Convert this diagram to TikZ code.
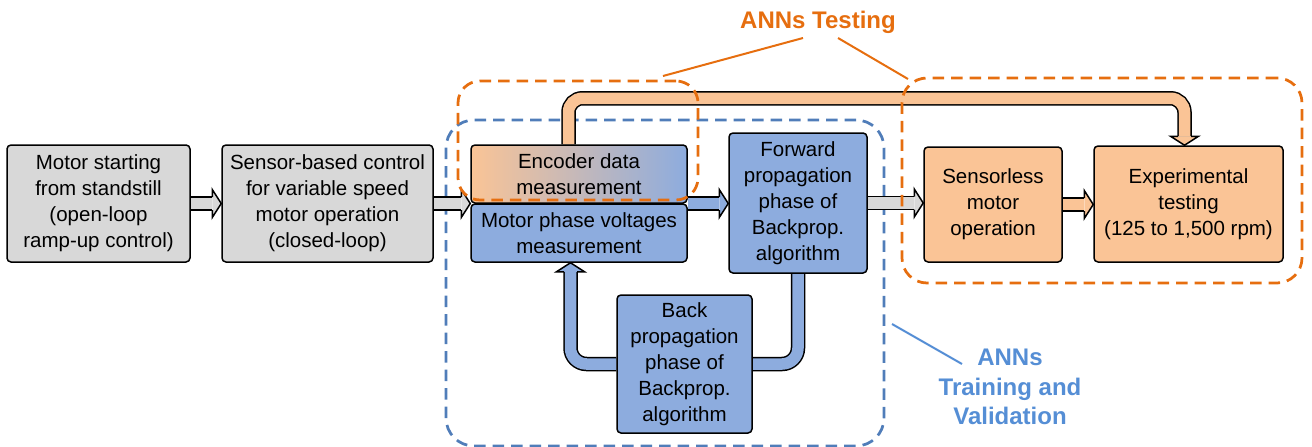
\documentclass[tikz,border=0pt]{standalone}
\usepackage{fontspec}
\setmainfont{Liberation Sans}
\usetikzlibrary{calc}

\definecolor{grfill}{RGB}{216,216,216}
\definecolor{orfill}{RGB}{250,196,150}
\definecolor{blfill}{RGB}{141,172,222}
\definecolor{ordash}{RGB}{230,110,15}
\definecolor{bldash}{RGB}{80,125,185}
\definecolor{bltext}{RGB}{85,142,213}

\pgfdeclarelayer{framelayer}
\pgfdeclarelayer{arrowlayer}
\pgfsetlayers{framelayer,arrowlayer,main}

\tikzset{
  stage/.style={draw=black, line width=1.5pt, rounded corners=4pt, align=center,
    inner sep=0pt, font=\fontsize{20.5}{26}\selectfont},
  blockshaft/.style={line width=1.5pt, double=#1, double distance=11.5pt},
  outl/.style={line width=1.5pt, line join=miter},
  frameor/.style={draw=ordash, line width=2.75pt, dash pattern=on 11.5pt off 7pt, inner sep=0pt},
  framebl/.style={draw=bldash, line width=2.75pt, dash pattern=on 11.5pt off 7pt, inner sep=0pt,
    rounded corners=28pt},
  grouplabel/.style={font=\fontsize{24}{29.5}\selectfont\bfseries, align=center, inner sep=0pt},
}

% arrow head of a block arrow: colour, tip, a point back along the shaft
\newcommand{\blkhead}[3]{%
  \coordinate (hb) at ($(#2)!9pt!(#3)$);
  \fill[#1] ($(hb)!14pt!90:(#2)$) -- (#2) -- ($(hb)!14pt!-90:(#2)$) -- cycle;
  \draw[outl] ($(hb)!6.5pt!90:(#2)$) -- ($(hb)!14pt!90:(#2)$) -- (#2)
    -- ($(hb)!14pt!-90:(#2)$) -- ($(hb)!6.5pt!-90:(#2)$);
}

\begin{document}
\begin{tikzpicture}[x=1pt,y=-1pt]
\useasboundingbox (0,0) rectangle (1312,447);

% stages
\node[stage, fill=grfill, minimum width=183pt, minimum height=117pt] (start) at (98.5,203.5)
  {Motor starting\\from standstill\\(open-loop\\ramp-up control)};
\node[stage, fill=grfill, minimum width=211pt, minimum height=117pt] (sensor) at (327.5,203.5)
  {Sensor-based control\\for variable speed\\motor operation\\(closed-loop)};
\node[stage, fill=blfill, minimum width=216pt, minimum height=58pt] (mpv) at (579,233)
  {Motor phase voltages\\measurement};
\node[stage, left color=orfill, right color=blfill, minimum width=216pt, minimum height=58pt] (enc) at (579,174)
  {Encoder data\\measurement};
\node[stage, fill=blfill, minimum width=138pt, minimum height=140pt] (fwd) at (798,203)
  {Forward\\propagation\\phase of\\Backprop.\\algorithm};
\node[stage, fill=blfill, minimum width=135pt, minimum height=138pt] (back) at (684.5,364)
  {Back\\propagation\\phase of\\Backprop.\\algorithm};
\node[stage, fill=orfill, minimum width=138pt, minimum height=115pt] (sless) at (993,204.5)
  {Sensorless\\motor\\operation};
\node[stage, fill=orfill, minimum width=189pt, minimum height=116pt] (exper) at (1188.5,204)
  {Experimental\\testing\\(125 to 1,500 rpm)};

\coordinate (junc) at ($(enc.south east)!0.5!(mpv.north east)$);

% training / validation group frame, beneath everything
\begin{pgfonlayer}{framelayer}
  \node[framebl, minimum width=438pt, minimum height=326pt] (trainfrm) at (665,283) {};
\end{pgfonlayer}

% block arrows, beneath the stage boxes
\begin{pgfonlayer}{arrowlayer}
  % start -> sensor
  \draw[blockshaft=grfill] (start.east) -- ($(sensor.west)+(-9,0)$);
  \blkhead{grfill}{sensor.west}{start.east}
  % sensor -> measurement boxes
  \coordinate (mIn) at (enc.south west |- sensor.east);
  \draw[blockshaft=grfill] (sensor.east) -- ($(mIn)+(-9,0)$);
  \blkhead{grfill}{mIn}{sensor.east}
  % measurement -> forward propagation
  \coordinate (fIn) at (fwd.west |- junc);
  \draw[blockshaft=blfill] (junc) -- ($(fIn)+(-9,0)$);
  \blkhead{blfill}{fIn}{junc}
  % forward propagation -> sensorless operation
  \coordinate (sIn) at (sless.west |- fwd.east);
  \draw[blockshaft=grfill] (fwd.east) -- ($(sIn)+(-9,0)$);
  \blkhead{grfill}{sIn}{fwd.east}
  % sensorless operation -> experimental testing
  \coordinate (xIn) at (exper.west |- sless.east);
  \draw[blockshaft=orfill] (sless.east) -- ($(xIn)+(-9,0)$);
  \blkhead{orfill}{xIn}{sless.east}
  % forward propagation -> back propagation
  \draw[blockshaft=blfill, rounded corners=16pt] (fwd.south) |- (back.east);
  % back propagation -> motor phase voltages
  \coordinate (vIn) at ($(mpv.south)+(-8.5,0)$);
  \draw[blockshaft=blfill, rounded corners=16pt] (back.west) -| ($(vIn)+(0,9)$);
  \blkhead{blfill}{vIn}{back.west -| vIn}
  % encoder data -> experimental testing
  \coordinate (eOut) at ($(enc.north)+(-10.5,0)$);
  \coordinate (xTop) at ($(exper.north)+(-4,0)$);
  \draw[blockshaft=orfill, rounded corners=14pt] (eOut) -- ++(0,-46) -| ($(xTop)+(0,-9)$);
  \blkhead{orfill}{xTop}{$(xTop)+(0,-30)$}
\end{pgfonlayer}

% testing group frames
\node[frameor, rounded corners=22pt, minimum width=240pt, minimum height=119pt] (tstfrmA) at (578,140.5) {};
\node[frameor, rounded corners=25pt, minimum width=400pt, minimum height=205pt] (tstfrmB) at (1102,180.5) {};

% group labels
\node[grouplabel, text=ordash] (tstlbl) at (818,22) {ANNs Testing};
\node[grouplabel, text=bltext] (trnlbl) at (1010,387) {ANNs\\Training and\\Validation};

\coordinate (tstA) at (803,38);
\coordinate (tstB) at (838,38);
\coordinate (tstAe) at (663,76);
\coordinate (tstBe) at (908,79);
\draw[ordash, line width=2pt] (tstA) -- (tstAe);
\draw[ordash, line width=2pt] (tstB) -- (tstBe);

\coordinate (trnA) at (962,364);
\coordinate (trnAe) at (892,324);
\draw[bltext, line width=2pt] (trnA) -- (trnAe);
\end{tikzpicture}
\end{document}
